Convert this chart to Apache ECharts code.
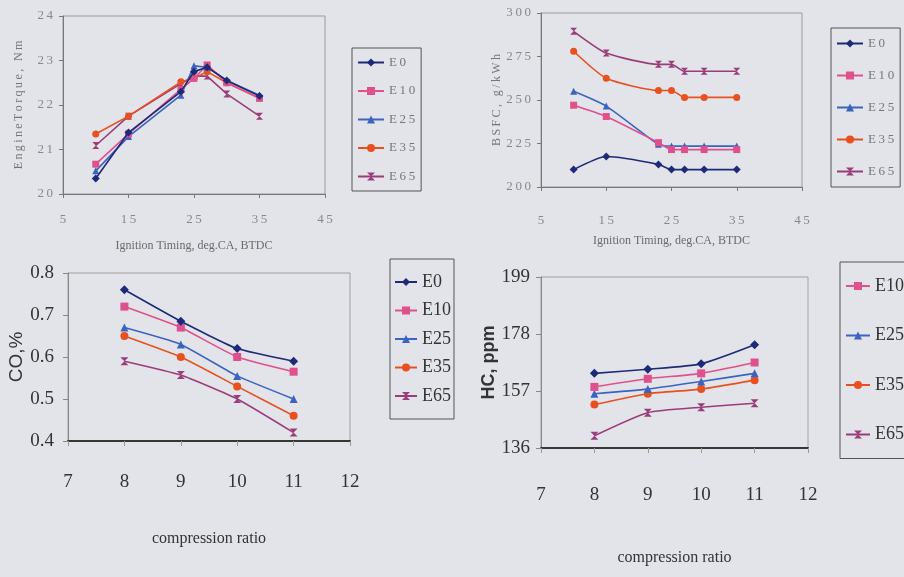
<!DOCTYPE html>
<html>
<head>
<meta charset="utf-8">
<script src="https://cdn.jsdelivr.net/npm/echarts@6/dist/echarts.min.js"></script>
<style>
html,body{margin:0;padding:0;background:#e3e4e9;}
#c{width:904px;height:577px;}
</style>
</head>
<body>
<div id="c"></div>
<script>
// ---- data ----
const seriesNames = ['E0','E10','E25','E35','E65'];
const hcLegendNames = ['E10','E25','E35','E65'];

const timingX = [10,15,23,25,27,30,35];
const torqueE0  = [20.35,21.38,22.30,22.75,22.85,22.55,22.20];
const torqueE10 = [20.67,21.35,22.35,22.60,22.90,22.50,22.15];
const torqueE25 = [20.52,21.29,22.22,22.88,22.85,22.55,22.22];
const torqueE35 = [21.35,21.75,22.52,22.60,22.75,22.50,22.15];
const torqueE65 = [21.09,21.75,22.48,22.65,22.65,22.25,21.75];

const bsfcE0  = [210,217.5,213,210,210,210,210];
const bsfcE10 = [247,240.5,225.5,221.5,221.5,221.5,221.5];
const bsfcE25 = [255,246.5,224.5,223.5,223.5,223.5,223.5];
const bsfcE35 = [278,262.5,255.5,255.5,251.5,251.5,251.5];
const bsfcE65 = [289.5,277,270.5,270.5,266.5,266.5,266.5];

const crX = [8,9,10,11];
const coE0  = [0.76,0.685,0.62,0.59];
const coE10 = [0.72,0.67,0.60,0.565];
const coE25 = [0.67,0.63,0.555,0.50];
const coE35 = [0.65,0.60,0.53,0.46];
const coE65 = [0.59,0.557,0.50,0.42];

const hcE0  = [163.5,165,167,174];
const hcE10 = [158.5,161.5,163.5,167.5];
const hcE25 = [156,157.7,160.5,163.5];
const hcE35 = [152,156,157.7,161];
const hcE65 = [140.5,149,151,152.5];

const timingTicks = [5,15,25,35,45];
const torqueTicks = [20,21,22,23,24];
const bsfcTicks = [200,225,250,275,300];
const crTicks = [7,8,9,10,11,12];
const coTicks = [0.4,0.5,0.6,0.7,0.8];
const hcTicks = [136,157,178,199];

// ---- styling ----
const colors = {E0:'#1d2a78',E10:'#e0508c',E25:'#3a64c0',E35:'#e85020',E65:'#9a3c7a'};
const symbols = {E0:'diamond',E10:'rect',E25:'triangle',E35:'circle',E65:'path://M0,0L10,0L0,10L10,10Z'};
const serif = 'Liberation Serif';
const sp = s => String(s).split('').join('\u2009');

function pairs(xs, ys){ return xs.map((x,i)=>[x,ys[i]]); }

function mkSeries(idx, xs, arrs, smooth, size){
  return seriesNames.map((n,i)=>({
    name:n, type:'line', xAxisIndex:idx, yAxisIndex:idx,
    data:pairs(xs, arrs[i]), smooth:smooth,
    symbol:symbols[n], symbolSize: n==='E0'? size+1 : size,
    showSymbol:true,
    lineStyle:{color:colors[n],width:1.6},
    itemStyle:{color:colors[n]},
    z: 10-i
  }));
}

function topX(idx, margin, gap){
  return {gridIndex:idx, type:'value', min:5, max:45,
    name:'Ignition Timing, deg.CA, BTDC', nameLocation:'middle', nameGap:gap,
    nameTextStyle:{fontFamily:serif,fontSize:12,color:'#6a6a6a'},
    axisLine:{show:true,lineStyle:{color:'#777',width:1}},
    axisTick:{show:true,length:4,customValues:timingTicks,lineStyle:{color:'#777'}},
    axisLabel:{customValues:timingTicks,margin:margin,fontFamily:serif,fontSize:13,color:'#888',formatter:v=>sp(v)},
    splitLine:{show:false}};
}
function topY(idx, min, max, interval, ticks, name, gap){
  return {gridIndex:idx, type:'value', min:min, max:max, interval:interval,
    name:name, nameLocation:'middle', nameGap:gap, nameRotate:90,
    nameTextStyle:{fontFamily:serif,fontSize:12,color:'#777'},
    axisLine:{show:true,lineStyle:{color:'#777',width:1}},
    axisTick:{show:true,length:4,lineStyle:{color:'#777'}},
    axisLabel:{margin:10,fontFamily:serif,fontSize:13,color:'#888',formatter:v=>sp(v)},
    splitLine:{show:false}};
}
function botX(idx, margin, gap){
  return {gridIndex:idx, type:'value', min:7, max:12, interval:1,
    name:'compression ratio', nameLocation:'middle', nameGap:gap,
    nameTextStyle:{fontFamily:serif,fontSize:16,color:'#333'},
    axisLine:{show:true,lineStyle:{color:'#3a3530',width:2}},
    axisTick:{show:true,length:5,lineStyle:{color:'#999'}},
    axisLabel:{margin:margin,fontFamily:serif,fontSize:19,color:'#333'},
    splitLine:{show:false}};
}
function legend(names, left, top, pad, gap, fs, col, fmt, iw){
  return {data:names, orient:'vertical', left:left, top:top, padding:pad, itemGap:gap,
    itemWidth:iw, itemHeight:10, borderColor:'#555', borderWidth:1,
    textStyle:{fontFamily:serif,fontSize:fs,color:col},
    formatter: fmt, selectedMode:false};
}

const option = {
  backgroundColor:'#e3e4e9',
  animation:false,
  grid:[
    {left:63, top:16, width:262, height:178, show:true, borderColor:'#9a9a9a', borderWidth:1, backgroundColor:'transparent'},
    {left:541, top:13, width:261, height:174, show:true, borderColor:'#9a9a9a', borderWidth:1, backgroundColor:'transparent'},
    {left:68, top:273, width:282, height:168, show:true, borderColor:'#a0a0a0', borderWidth:1, backgroundColor:'transparent'},
    {left:541, top:277, width:267, height:171, show:true, borderColor:'#a0a0a0', borderWidth:1, backgroundColor:'transparent'}
  ],
  xAxis:[ topX(0,19,46), topX(1,27,48), botX(2,32,90), botX(3,38,102) ],
  yAxis:[
    topY(0,20,24,1,torqueTicks,sp('EngineTorque, Nm'),38),
    topY(1,200,300,25,bsfcTicks,sp('BSFC, g/kWh'),36),
    {gridIndex:2, type:'value', min:0.4, max:0.8, interval:0.1,
      name:'CO,%', nameLocation:'middle', nameGap:38,
      nameTextStyle:{fontFamily:'Liberation Sans',fontSize:19,color:'#333'},
      axisLine:{show:true,lineStyle:{color:'#888',width:1}},
      axisTick:{show:true,length:5,lineStyle:{color:'#888'}},
      axisLabel:{margin:14,fontFamily:serif,fontSize:19,color:'#333',formatter:v=>v.toFixed(1)},
      splitLine:{show:false}},
    {gridIndex:3, type:'value', min:136, max:199,
      name:'HC, ppm', nameLocation:'middle', nameGap:36,
      nameTextStyle:{fontFamily:'Liberation Sans',fontSize:18,fontWeight:'bold',color:'#333'},
      axisLine:{show:true,lineStyle:{color:'#888',width:1}},
      axisTick:{show:true,length:5,customValues:hcTicks,lineStyle:{color:'#888'}},
      axisLabel:{customValues:hcTicks,margin:11,fontFamily:serif,fontSize:19,color:'#333'},
      splitLine:{show:false}}
  ],
  legend:[
    legend(seriesNames,352,48,[8,6,8,5],15.5,13,'#777',n=>sp(n),26),
    legend(seriesNames,831,28,[9,6,9,5],19,13,'#777',n=>sp(n),26),
    legend(seriesNames,390,259,[14,3,14,4],10.5,18,'#333',undefined,22),
    legend(hcLegendNames,840,262,[15,8,15,5],31.5,18,'#333',undefined,24)
  ],
  series:[].concat(
    mkSeries(0, timingX, [torqueE0,torqueE10,torqueE25,torqueE35,torqueE65], false, 7),
    mkSeries(1, timingX, [bsfcE0,bsfcE10,bsfcE25,bsfcE35,bsfcE65], 0.2, 7),
    mkSeries(2, crX, [coE0,coE10,coE25,coE35,coE65], 0.15, 8),
    mkSeries(3, crX, [hcE0,hcE10,hcE25,hcE35,hcE65], 0.2, 8)
  )
};

const chart = echarts.init(document.getElementById('c'), null, {renderer:'canvas'});
chart.setOption(option);
</script>
</body>
</html>
